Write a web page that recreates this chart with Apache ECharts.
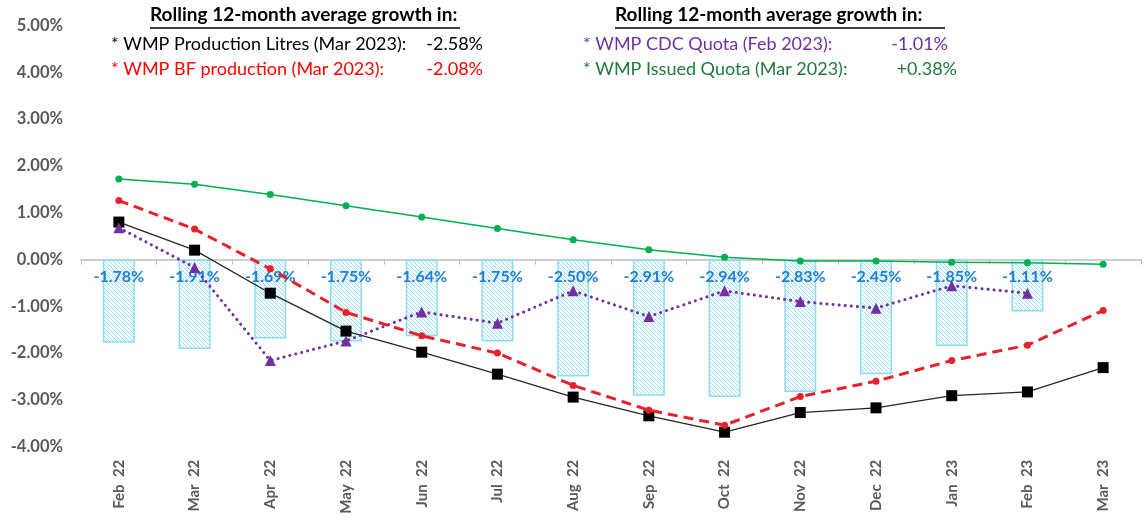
<!DOCTYPE html>
<html>
<head>
<meta charset="utf-8">
<script src="https://cdn.jsdelivr.net/npm/echarts@6/dist/echarts.min.js"></script>
<style>
html,body{margin:0;padding:0;background:#fff;}
#chart{width:1147px;height:521px;}
</style>
</head>
<body>
<div id="chart"></div>
<script>
const categories = ['Feb  22','Mar  22','Apr  22','May  22','Jun  22','Jul  22','Aug  22','Sep  22','Oct  22','Nov  22','Dec  22','Jan  23','Feb  23','Mar  23'];
const barValues = [-1.78,-1.91,-1.69,-1.75,-1.64,-1.75,-2.50,-2.91,-2.94,-2.83,-2.45,-1.85,-1.11,null];
const productionLitres = [0.80,0.20,-0.72,-1.53,-1.98,-2.45,-2.94,-3.34,-3.69,-3.27,-3.17,-2.91,-2.83,-2.31];
const bfProduction = [1.26,0.65,-0.20,-1.13,-1.63,-2.00,-2.69,-3.22,-3.54,-2.93,-2.60,-2.16,-1.83,-1.09];
const cdcQuota = [0.68,-0.17,-2.16,-1.74,-1.12,-1.36,-0.67,-1.22,-0.67,-0.90,-1.04,-0.56,-0.72,null];
const issuedQuota = [1.72,1.61,1.39,1.15,0.91,0.66,0.42,0.21,0.05,-0.03,-0.03,-0.06,-0.07,-0.10];

const FONT = 'Lato, "Open Sans", sans-serif';

// hatch pattern
const pc = document.createElement('canvas');
pc.width = 4; pc.height = 4;
const pctx = pc.getContext('2d');
pctx.fillStyle = '#f2fbfe';
pctx.fillRect(0,0,4,4);
pctx.strokeStyle = '#a6e2f2';
pctx.lineWidth = 1;
pctx.beginPath();
pctx.moveTo(0,0); pctx.lineTo(4,4);
pctx.moveTo(-2,2); pctx.lineTo(2,6);
pctx.moveTo(2,-2); pctx.lineTo(6,2);
pctx.stroke();

const chart = echarts.init(document.getElementById('chart'), null, {renderer:'canvas'});
const option = {
  animation: false,
  backgroundColor: '#ffffff',
  grid: {left: 81, right: 6, top: 25.5, bottom: 74.3},
  xAxis: [
    {
      type: 'category', data: categories, position: 'bottom',
      axisLine: {onZero: true, lineStyle: {color: '#bfbfbf', width: 1.5}},
      axisTick: {show: true, length: 5, lineStyle: {color: '#bfbfbf'}},
      axisLabel: {show: false}
    },
    {
      type: 'category', data: categories, position: 'bottom',
      axisLine: {show: false, onZero: false}, axisTick: {show: false},
      axisLabel: {rotate: 90, margin: 13, color: '#595959', fontWeight: 'bold', fontSize: 15, fontFamily: FONT}
    }
  ],
  yAxis: {
    type: 'value', min: -4, max: 5, interval: 1,
    axisLine: {show: false}, axisTick: {show: false}, splitLine: {show: false},
    axisLabel: {formatter: v => v.toFixed(2) + '%', color: '#595959', fontWeight: 'bold', fontSize: 16.5, fontFamily: FONT, margin: 18}
  },
  series: [
    {
      type: 'bar', data: barValues, xAxisIndex: 0, barWidth: 32,
      itemStyle: {color: {image: pc, repeat: 'repeat'}, borderColor: '#8fdcef', borderWidth: 1.5},
      label: {show: true, position: 'insideTop', distance: 9, formatter: p => p.value.toFixed(2) + '%', color: '#1f80d0', fontWeight: 'bold', fontSize: 16, fontFamily: FONT},
      z: 1
    },
    {
      type: 'line', data: issuedQuota, symbol: 'circle', symbolSize: 7,
      lineStyle: {color: '#00b050', width: 1.5}, itemStyle: {color: '#00b050'}, z: 3
    },
    {
      type: 'line', data: productionLitres, symbol: 'rect', symbolSize: 11,
      lineStyle: {color: '#262626', width: 1.3}, itemStyle: {color: '#000000'}, z: 4
    },
    {
      type: 'line', data: bfProduction, symbol: 'circle', symbolSize: 7,
      lineStyle: {color: '#e8202a', width: 3, type: [10, 6]}, itemStyle: {color: '#e8202a'}, z: 5
    },
    {
      type: 'line', data: cdcQuota, symbol: 'triangle', symbolSize: 11,
      lineStyle: {color: '#7030a0', width: 3, type: [0.1, 6], cap: 'round'}, itemStyle: {color: '#7030a0'}, z: 6
    }
  ],
  graphic: [
    {type:'text', left: 150, top: 5, style:{text:'Rolling 12-month average growth in:', font:'bold 19px ' + FONT, fill:'#000'}},
    {type:'line', shape:{x1:150, y1:28, x2:460, y2:28}, style:{stroke:'#000', lineWidth:1.3}},
    {type:'text', left: 111, top: 35, style:{text:'* WMP Production Litres (Mar 2023):', font:'18px ' + FONT, fill:'#000'}},
    {type:'text', right: 1147-483, top: 35, style:{text:'-2.58%', font:'18px ' + FONT, fill:'#000'}},
    {type:'text', left: 111, top: 60, style:{text:'* WMP BF production (Mar 2023):', font:'18px ' + FONT, fill:'#ff0000'}},
    {type:'text', right: 1147-483, top: 60, style:{text:'-2.08%', font:'18px ' + FONT, fill:'#ff0000'}},
    {type:'text', left: 615, top: 5, style:{text:'Rolling 12-month average growth in:', font:'bold 19px ' + FONT, fill:'#000'}},
    {type:'line', shape:{x1:615, y1:28, x2:945, y2:28}, style:{stroke:'#000', lineWidth:1.3}},
    {type:'text', left: 583, top: 35, style:{text:'* WMP CDC Quota (Feb 2023):', font:'18px ' + FONT, fill:'#7030a0'}},
    {type:'text', right: 1147-948, top: 35, style:{text:'-1.01%', font:'18px ' + FONT, fill:'#7030a0'}},
    {type:'text', left: 583, top: 60, style:{text:'* WMP Issued Quota (Mar 2023):', font:'18px ' + FONT, fill:'#1e7a3e'}},
    {type:'text', right: 1147-957, top: 60, style:{text:'+0.38%', font:'18px ' + FONT, fill:'#1e7a3e'}}
  ]
};
chart.setOption(option);
</script>
</body>
</html>
